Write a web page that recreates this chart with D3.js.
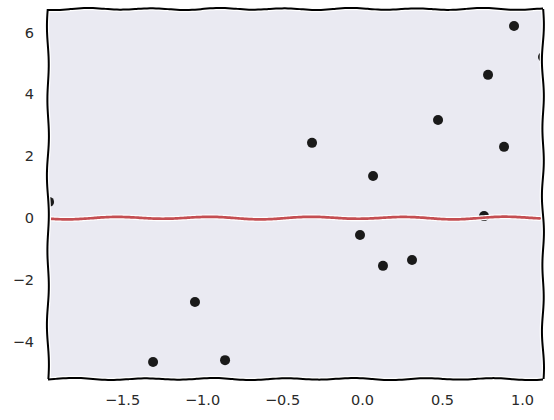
<!DOCTYPE html>
<html lang="en">
<head>
    <meta charset="UTF-8">
    <style>
        body { margin: 0; background: #fff; }
        .tick text { font-family: "DejaVu Sans", sans-serif; font-size: 14.5px; fill: #2a2a2a; }
    </style>
    <script src="https://d3js.org/d3.v7.min.js"></script>
</head>
<body>
    <div id="chart"></div>
    <script>
        // scatter values
        var xs = [-1.956, -1.306, -1.044, -0.856, -0.3125, -0.0125, 0.069, 0.131, 0.3125, 0.475, 0.7625, 0.7875, 0.8875, 0.95, 1.131];
        var ys = [0.52, -4.66, -2.72, -4.60, 2.43, -0.55, 1.36, -1.55, -1.36, 3.17, 0.06, 4.63, 2.30, 6.21, 5.21];
        // fitted line (flat at zero)
        var lineX = [-1.96, 1.11];
        var lineY = [0, 0];
        var xTicks = [-1.5, -1.0, -0.5, 0.0, 0.5, 1.0];
        var yTicks = [-4, -2, 0, 2, 4, 6];

        var W = 554, H = 420;
        var margin = { top: 9, right: 11, bottom: 41, left: 48 };
        var width = W - margin.left - margin.right,
            height = H - margin.top - margin.bottom;

        var svg = d3.select("#chart").append("svg")
            .attr("width", W).attr("height", H);
        var g = svg.append("g")
            .attr("transform", "translate(" + margin.left + "," + margin.top + ")");

        var x = d3.scaleLinear().domain([-1.9625, 1.131]).range([0, width]);
        var y = d3.scaleLinear().domain([-5.21, 6.76]).range([height, 0]);

        g.append("rect").attr("width", width).attr("height", height).attr("fill", "#eaeaf2");

        g.append("clipPath").attr("id", "clip")
            .append("rect").attr("width", width).attr("height", height);

        // xkcd-ish wobble along a straight segment
        function wobble(x0, y0, x1, y1, amp, len, phase) {
            var dx = x1 - x0, dy = y1 - y0;
            var L = Math.sqrt(dx * dx + dy * dy);
            var nx = -dy / L, ny = dx / L;
            var n = Math.max(2, Math.round(L / 3));
            var pts = [];
            for (var i = 0; i <= n; i++) {
                var t = i / n, s = t * L;
                var o = amp * (Math.sin(s / len * 2 * Math.PI + phase) * 0.85 +
                    Math.sin(s / (len * 1.9) * 2 * Math.PI + phase * 1.7) * 0.25);
                pts.push([x0 + dx * t + nx * o, y0 + dy * t + ny * o]);
            }
            return d3.line().curve(d3.curveBasis)(pts);
        }

        var points = d3.range(xs.length).map(function (i) { return { x: xs[i], y: ys[i] }; });

        g.append("g").attr("clip-path", "url(#clip)")
            .selectAll("circle")
            .data(points)
            .enter().append("circle")
            .attr("cx", function (d) { return x(d.x); })
            .attr("cy", function (d) { return y(d.y); })
            .attr("r", 5)
            .attr("fill", "#1a1a1a");

        var lp = wobble(x(lineX[0]), y(lineY[0]), x(lineX[1]), y(lineY[1]), 1.3, 97, 0.4);
        g.append("path").attr("d", lp).attr("fill", "none")
            .attr("stroke", "#fff").attr("stroke-width", 5).attr("stroke-linecap", "round");
        g.append("path").attr("d", lp).attr("fill", "none")
            .attr("stroke", "#c44e52").attr("stroke-width", 2.7).attr("stroke-linecap", "round");

        // spines
        var spines = [
            [0, 0, width, 0, 1.0, 66, 1.0],
            [0, height, width, height, 1.0, 70, 2.3],
            [0, 0, 0, height, 1.0, 75, 0.2],
            [width, 0, width, height, 1.0, 68, 3.1]
        ];
        spines.forEach(function (s) {
            var p = wobble(s[0], s[1], s[2], s[3], s[4], s[5], s[6]);
            g.append("path").attr("d", p).attr("fill", "none")
                .attr("stroke", "#fff").attr("stroke-width", 4.5);
        });
        spines.forEach(function (s) {
            var p = wobble(s[0], s[1], s[2], s[3], s[4], s[5], s[6]);
            g.append("path").attr("d", p).attr("fill", "none")
                .attr("stroke", "#000").attr("stroke-width", 2);
        });

        var fmtX = function (d) { return d3.format(".1f")(d).replace("-", "\u2212"); };
        var fmtY = function (d) { return String(d).replace("-", "\u2212"); };

        var xAxis = g.append("g").attr("transform", "translate(0," + height + ")")
            .call(d3.axisBottom(x).tickValues(xTicks).tickFormat(fmtX).tickSize(0).tickPadding(16));
        var yAxis = g.append("g")
            .call(d3.axisLeft(y).tickValues(yTicks).tickFormat(fmtY).tickSize(0).tickPadding(14));
        xAxis.select(".domain").remove();
        yAxis.select(".domain").remove();
    </script>
</body>
</html>
